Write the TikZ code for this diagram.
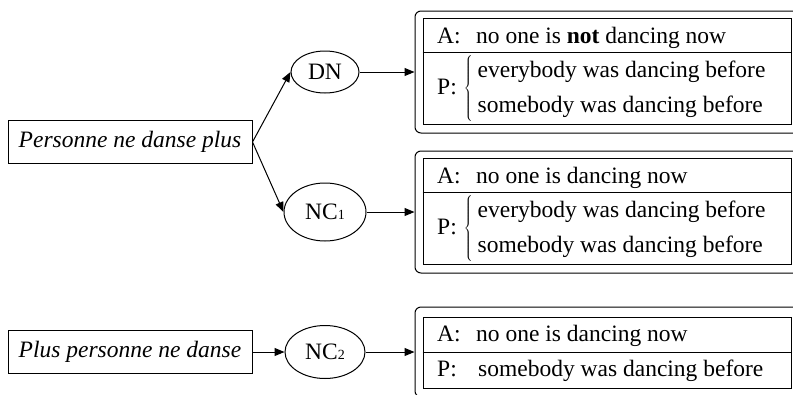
\documentclass[tikz,border=0pt]{standalone}
\usepackage{fontspec}
\setmainfont{Liberation Serif}
\usetikzlibrary{positioning,arrows.meta,shapes.geometric}
\tikzset{
  srcbox/.style={draw,line width=1pt,minimum width=244pt,minimum height=43pt,
    inner sep=0pt,font=\fontsize{23.5}{29}\selectfont\itshape},
  reading/.style={draw,ellipse,line width=1pt,inner sep=0pt},
  outerbox/.style={draw,rounded corners=6pt,line width=1pt,inner sep=0pt},
  innerbox/.style={draw,line width=1pt,inner sep=0pt},
  row/.style={inner sep=0pt,anchor=base west},
  prow/.style={inner sep=0pt,anchor=west},
  divider/.style={line width=1pt},
  link/.style={-{Triangle[length=10pt,width=8pt]},line width=1pt},
}
\newcommand{\nsub}[1]{{\fontsize{14}{14}\selectfont #1}}
\newcommand{\lab}[2]{\makebox[#1][l]{#2}}
\newcommand{\twolines}[2]{P:\hspace{7pt}$\left\{\renewcommand{\arraystretch}{1.22}%
  \begin{tabular}{@{\hspace{5pt}}l@{}}#1\\#2\end{tabular}\right.$}

\begin{document}
\begin{tikzpicture}[x=1pt,y=-1pt,font=\fontsize{23.5}{29}\selectfont]
\useasboundingbox (0,0) rectangle (793,394);
\clip (0,0) rectangle (793,394);

% sentences
\node[srcbox] (src1) at (130,142) {Personne ne danse plus};
\node[srcbox] (src2) at (130,352) {Plus personne ne danse};

% readings
\node[reading,minimum width=68pt,minimum height=42pt] (dn) at (325,72) {DN};
\node[reading,minimum width=82pt,minimum height=58pt] (nc1) at (325,212) {NC\nsub{1}};
\node[reading,minimum width=80pt,minimum height=53pt] (nc2) at (325,352) {NC\nsub{2}};

% result cards (cut off at the right edge)
\node[outerbox,minimum width=390pt,minimum height=122pt] (res1) at (610,72) {};
\node[outerbox,minimum width=390pt,minimum height=122pt] (res2) at (610,212) {};
\node[outerbox,minimum width=390pt,minimum height=90pt] (res3) at (610,352) {};
\node[innerbox,minimum width=368pt,minimum height=106pt] (in1) at (607,71) {};
\node[innerbox,minimum width=368pt,minimum height=106pt] (in2) at (607,211) {};
\node[innerbox,minimum width=368pt,minimum height=71pt] (in3) at (607,352.5) {};
\draw[divider] (in1.west|-0,52) -- (in1.east|-0,52);
\draw[divider] (in2.west|-0,192) -- (in2.east|-0,192);
\draw[divider] (in3.west|-0,352) -- (in3.east|-0,352);

% card texts
\node[row] (a1) at (437,43) {\lab{39pt}{A:}no one is \textbf{not} dancing now};
\node[prow] (p1) at (437,88) {\twolines{everybody was dancing before}{somebody was dancing before}};
\node[row] (a2) at (437,183) {\lab{39pt}{A:}no one is dancing now};
\node[prow] (p2) at (437,228) {\twolines{everybody was dancing before}{somebody was dancing before}};
\node[row] (a3) at (437,341) {\lab{39pt}{A:}no one is dancing now};
\node[row] (p3) at (437,376) {\lab{41pt}{P:}somebody was dancing before};

\draw[link] (src1.east) -- (dn.west);
\draw[link] (src1.east) -- (nc1.west);
\draw[link] (dn) -- (res1);
\draw[link] (nc1) -- (res2);
\draw[link] (src2) -- (nc2);
\draw[link] (nc2) -- (res3);
\end{tikzpicture}
\end{document}
